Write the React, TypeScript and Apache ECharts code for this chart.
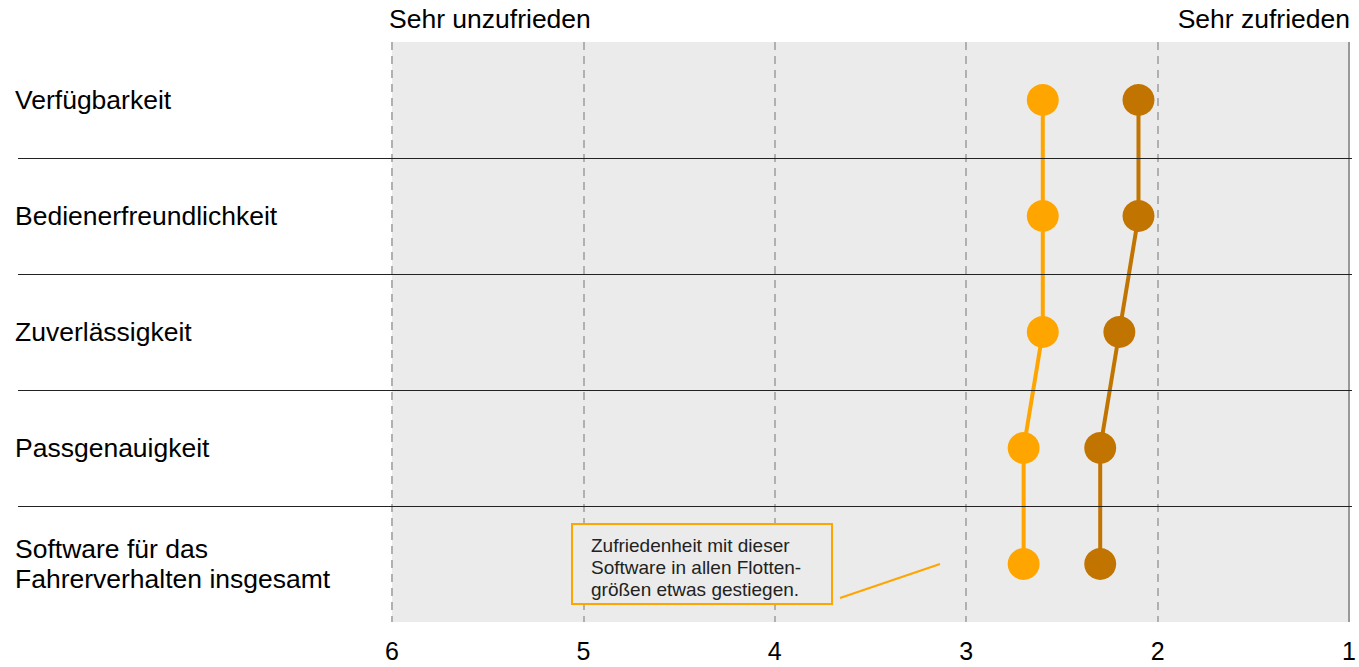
import React, { useEffect, useRef } from "react";
import * as echarts from "echarts";

const categories = [
  "Verfügbarkeit",
  "Bedienerfreundlichkeit",
  "Zuverlässigkeit",
  "Passgenauigkeit",
  "Software für das\nFahrerverhalten insgesamt",
];
const seriesLight = [2.6, 2.6, 2.6, 2.7, 2.7];
const seriesDark = [2.1, 2.1, 2.2, 2.3, 2.3];
const xTicks = [1, 2, 3, 4, 5, 6];
const topLeftLabel = "Sehr unzufrieden";
const topRightLabel = "Sehr zufrieden";
const noteLines = [
  "Zufriedenheit mit dieser",
  "Software in allen Flotten-",
  "größen etwas gestiegen.",
];

const FONT = "'Liberation Sans', Arial, Helvetica, sans-serif";
const LIGHT = "#FFA500";
const DARK = "#C27400";

export default function App() {
  const ref = useRef<HTMLDivElement>(null);
  useEffect(() => {
    if (!ref.current) return;
    const chart = echarts.init(ref.current, undefined, { renderer: "svg" });
    const gridTop = 42;
    const gridBottom = 622;
    const gridLeft = 392;
    const gridRight = 1352;
    const rowH = (gridBottom - gridTop) / categories.length;
    const separators = [];
    for (let i = 1; i < categories.length; i++) {
      const y = Math.round(gridTop + rowH * i) + 0.5;
      separators.push({
        type: "line",
        z: 10,
        shape: { x1: 18, y1: y, x2: gridRight, y2: y },
        style: { stroke: "#222", lineWidth: 1 },
      });
    }
    chart.setOption({
      animation: false,
      textStyle: { fontFamily: FONT },
      grid: {
        left: gridLeft,
        right: 1359 - gridRight,
        top: gridTop,
        bottom: 667 - gridBottom,
        show: true,
        backgroundColor: "#ebebeb",
        borderWidth: 0,
      },
      xAxis: {
        type: "value",
        inverse: true,
        min: xTicks[0],
        max: xTicks[xTicks.length - 1],
        interval: 1,
        axisLine: { show: false },
        axisTick: { show: false },
        axisLabel: {
          fontSize: 25,
          lineHeight: 22,
          color: "#000",
          margin: 18,
          fontFamily: FONT,
          showMaxLabel: true,
          showMinLabel: true,
        },
        splitLine: {
          show: true,
          lineStyle: { color: "#b0b0b0", width: 2, type: [8, 6] },
        },
      },
      yAxis: {
        type: "category",
        inverse: true,
        data: categories,
        axisLine: { show: false },
        axisTick: { show: false },
        splitLine: { show: false },
        axisLabel: {
          align: "left",
          margin: gridLeft - 15,
          fontSize: 26.5,
          lineHeight: 30,
          color: "#000",
          fontFamily: FONT,
          padding: [4, 0, 0, 0],
        },
      },
      series: [
        {
          type: "line",
          data: seriesLight,
          symbol: "circle",
          symbolSize: 32,
          lineStyle: { color: LIGHT, width: 4 },
          itemStyle: { color: LIGHT },
          z: 5,
          markLine: {
            silent: true,
            symbol: "none",
            label: { show: false },
            lineStyle: { color: "#999", width: 2, type: "solid" },
            data: [{ xAxis: xTicks[0] }],
          },
        },
        {
          type: "line",
          data: seriesDark,
          symbol: "circle",
          symbolSize: 32,
          lineStyle: { color: DARK, width: 4 },
          itemStyle: { color: DARK },
          z: 5,
        },
      ],
      graphic: [
        ...separators,
        {
          type: "text",
          left: 389,
          top: 5,
          style: { text: topLeftLabel, fontSize: 26.5, fill: "#000", fontFamily: FONT },
        },
        {
          type: "text",
          right: 9,
          top: 5,
          style: { text: topRightLabel, fontSize: 26.5, fill: "#000", fontFamily: FONT },
        },
        {
          type: "rect",
          z: 20,
          shape: { x: 572, y: 524, width: 260, height: 80 },
          style: { fill: "#ebebeb", stroke: LIGHT, lineWidth: 2 },
        },
        {
          type: "text",
          z: 21,
          x: 591,
          y: 534,
          style: {
            text: noteLines.join("\n"),
            fontSize: 19,
            lineHeight: 22,
            fill: "#222",
            fontFamily: FONT,
          },
        },
        {
          type: "line",
          z: 20,
          shape: { x1: 840, y1: 598, x2: 940, y2: 564 },
          style: { stroke: LIGHT, lineWidth: 2 },
        },
      ],
    });
    return () => chart.dispose();
  }, []);
  return (
    <div
      ref={ref}
      style={{ position: "absolute", left: 0, top: 0, width: 1359, height: 667 }}
    />
  );
}
